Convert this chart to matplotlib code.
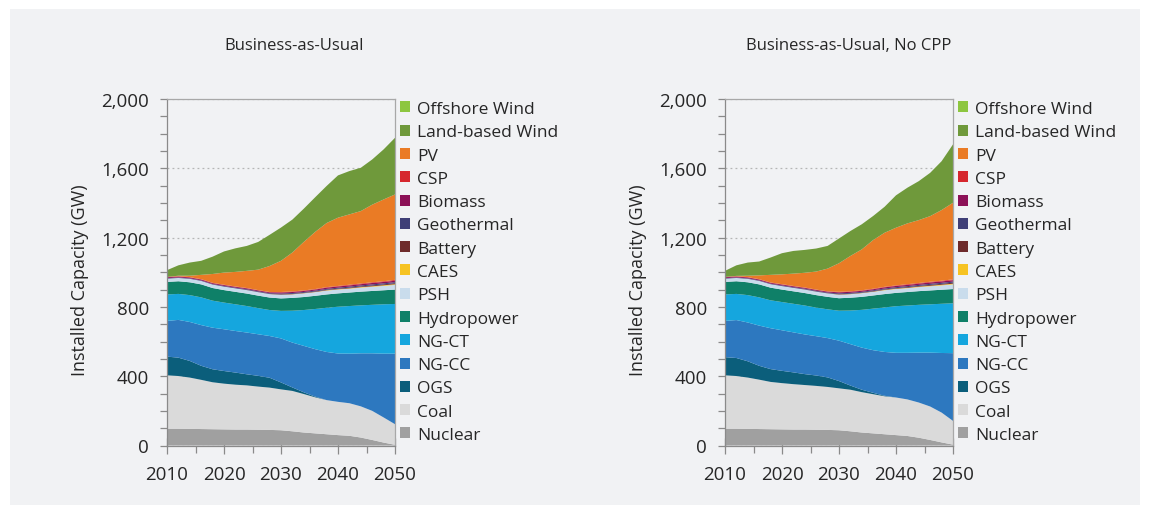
import numpy as np
import matplotlib.pyplot as plt
from matplotlib.patches import Patch, Rectangle
from matplotlib.ticker import MultipleLocator, FuncFormatter

plt.rcParams['font.family'] = ['Open Sans', 'DejaVu Sans']

years = [2010, 2012, 2014, 2016, 2018, 2020, 2022, 2024, 2026, 2028, 2030,
         2032, 2034, 2036, 2038, 2040, 2042, 2044, 2046, 2048, 2050]

labels = ['Nuclear', 'Coal', 'OGS', 'NG-CC', 'NG-CT', 'Hydropower', 'PSH', 'CAES',
          'Battery', 'Geothermal', 'Biomass', 'CSP', 'PV', 'Land-based Wind', 'Offshore Wind']
colors = ['#a0a0a0', '#dadada', '#0b5e7b', '#2d78bf', '#15a6de', '#0f8068', '#c9dcec', '#f6c323',
          '#6e2b2b', '#3f3f77', '#8c1157', '#d6272e', '#ea7b25', '#6f993b', '#8dc640']

# Business-as-Usual (GW)
nuclear_bau = [97, 97, 96, 95, 94, 93, 92, 92, 91, 90, 88, 82, 75, 70, 65, 60, 56, 46, 32, 17, 4]
coal_bau = [308, 304, 296, 284, 271, 264, 259, 255, 249, 244, 236, 233, 222, 208, 197, 192, 188, 180, 168, 145, 119]
ogs_bau = [108, 106, 96, 81, 75, 73, 70, 64, 62, 57, 40, 20, 10, 4, 0, 0, 0, 0, 0, 0, 0]
ngcc_bau = [206, 218, 225, 235, 240, 241, 240, 241, 240, 241, 254, 259, 268, 274, 278, 279, 286, 306, 332, 368, 407]
ngct_bau = [153, 150, 155, 160, 156, 154, 154, 153, 151, 150, 159, 184, 207, 232, 255, 270, 275, 277, 280, 285, 287]
hydro_bau = [72, 73, 74, 75, 73, 72, 72, 72, 72, 72, 72, 74, 75, 76, 77, 77, 78, 79, 80, 81, 83]
psh_bau = [19, 19, 20, 20, 20, 20, 20, 20, 20, 20, 20, 20, 21, 21, 22, 22, 22, 23, 24, 25, 27]
caes_bau = [0, 0, 0, 0, 0, 0, 0, 0, 0, 0, 1, 1, 1, 1, 2, 2, 2, 3, 3, 4, 4]
battery_bau = [0, 0, 0, 0, 0, 0, 0, 1, 1, 1, 2, 2, 2, 3, 3, 3, 4, 4, 5, 5, 6]
geo_bau = [3, 3, 3, 3, 3, 4, 4, 4, 4, 4, 5, 5, 5, 5, 5, 6, 6, 6, 6, 6, 6]
biomass_bau = [5, 5, 5, 5, 5, 5, 5, 5, 5, 5, 6, 6, 6, 6, 7, 7, 7, 7, 8, 8, 8]
csp_bau = [2, 2, 2, 2, 2, 2, 2, 2, 2, 2, 3, 3, 3, 3, 3, 3, 4, 4, 4, 4, 5]
pv_bau = [0, 3, 8, 25, 51, 70, 84, 99, 118, 150, 180, 225, 280, 330, 370, 394, 406, 418, 448, 472, 493]
wind_bau = [39, 60, 76, 81, 100, 122, 136, 144, 160, 180, 192, 190, 192, 200, 214, 244, 250, 250, 261, 289, 327]
offshore_bau = [0, 0, 0, 0, 0, 0, 0, 0, 0, 0, 0, 0, 0, 0, 0, 0, 0, 0, 0, 0, 0]

# Business-as-Usual, No CPP (GW)
nuclear_nocpp = [97, 97, 96, 95, 94, 93, 92, 92, 91, 90, 88, 82, 75, 70, 65, 60, 55, 45, 32, 18, 5]
coal_nocpp = [308, 304, 296, 285, 273, 267, 262, 257, 253, 248, 242, 240, 233, 226, 219, 217, 211, 203, 193, 172, 137]
ogs_nocpp = [105, 104, 94, 80, 74, 71, 68, 63, 60, 55, 42, 24, 14, 8, 3, 0, 0, 0, 0, 0, 0]
ngcc_nocpp = [209, 219, 224, 232, 236, 234, 231, 229, 227, 227, 233, 239, 243, 246, 253, 258, 269, 288, 311, 344, 391]
ngct_nocpp = [153, 151, 158, 163, 161, 163, 165, 167, 165, 166, 173, 194, 218, 240, 257, 269, 273, 276, 279, 284, 288]
hydro_nocpp = [72, 73, 74, 75, 73, 72, 72, 72, 72, 72, 72, 74, 75, 76, 77, 77, 78, 79, 80, 81, 82]
psh_nocpp = [19, 19, 20, 20, 20, 20, 20, 20, 20, 20, 20, 20, 21, 21, 22, 22, 22, 23, 24, 25, 27]
caes_nocpp = [0, 0, 0, 0, 0, 0, 0, 0, 0, 0, 1, 1, 1, 1, 2, 2, 2, 3, 3, 4, 4]
battery_nocpp = [0, 0, 0, 0, 0, 0, 0, 1, 1, 1, 2, 2, 2, 3, 3, 3, 4, 4, 5, 5, 6]
geo_nocpp = [3, 3, 3, 3, 3, 4, 4, 4, 4, 4, 5, 5, 5, 5, 5, 6, 6, 6, 6, 6, 6]
biomass_nocpp = [5, 5, 5, 5, 5, 5, 5, 5, 5, 5, 6, 6, 6, 6, 7, 7, 7, 7, 8, 8, 8]
csp_nocpp = [2, 2, 2, 2, 2, 2, 2, 2, 2, 2, 3, 3, 3, 3, 3, 3, 4, 4, 4, 4, 5]
pv_nocpp = [0, 2, 8, 22, 44, 57, 71, 85, 104, 131, 165, 204, 236, 281, 312, 333, 351, 363, 379, 408, 442]
wind_nocpp = [35, 61, 76, 80, 100, 122, 131, 132, 133, 131, 143, 144, 145, 139, 150, 187, 206, 225, 250, 282, 337]
offshore_nocpp = [0, 0, 0, 0, 0, 0, 0, 0, 0, 0, 0, 0, 0, 0, 0, 0, 0, 0, 0, 0, 0]

bau = [nuclear_bau, coal_bau, ogs_bau, ngcc_bau, ngct_bau, hydro_bau, psh_bau, caes_bau,
       battery_bau, geo_bau, biomass_bau, csp_bau, pv_bau, wind_bau, offshore_bau]
nocpp = [nuclear_nocpp, coal_nocpp, ogs_nocpp, ngcc_nocpp, ngct_nocpp, hydro_nocpp, psh_nocpp,
         caes_nocpp, battery_nocpp, geo_nocpp, biomass_nocpp, csp_nocpp, pv_nocpp, wind_nocpp,
         offshore_nocpp]

W, H = 1151, 510
text_color = '#262626'
spine_color = '#8a8a8a'


def px(x, y, w=0, h=0):
    # pixel box (top-left origin) -> figure fraction
    return [x / W, 1 - (y + h) / H, w / W, h / H]


def plotCapacityPanel(fig, left, title, title_x, layers):
    ax = fig.add_axes(px(left, 100, 228, 346.5))
    ax.set_facecolor('none')
    ax.stackplot(years, layers, colors=colors, linewidth=0, zorder=2)
    ax.set_xlim(2010, 2050)
    ax.set_ylim(0, 2000)

    ax.yaxis.set_major_locator(MultipleLocator(400))
    ax.yaxis.set_minor_locator(MultipleLocator(100))
    ax.xaxis.set_major_locator(MultipleLocator(10))
    ax.xaxis.set_minor_locator(MultipleLocator(5))
    ax.yaxis.set_major_formatter(FuncFormatter(lambda v, p: '{:,.0f}'.format(v)))

    ax.grid(axis='y', which='major', linestyle=(0, (1.5, 2.5)), color='#b5b5b5', linewidth=0.9, zorder=1)
    ax.set_axisbelow(True)
    for s in ax.spines.values():
        s.set_color(spine_color)
        s.set_linewidth(0.9)
    ax.spines['top'].set_color('#a8a8a8')
    ax.spines['right'].set_color('#a8a8a8')

    ax.tick_params(axis='y', which='both', direction='out', length=5, width=0.9,
                   color=spine_color, labelsize=13.5, labelcolor=text_color, pad=8)
    ax.tick_params(axis='x', which='major', direction='inout', length=12, width=0.9,
                   color=spine_color, labelsize=13.5, labelcolor=text_color, pad=8)
    ax.tick_params(axis='x', which='minor', direction='out', length=5, width=0.9, color=spine_color)

    fig.text(title_x / W, 1 - 46 / H, title, ha='center', va='center', fontsize=12, color=text_color)
    fig.text((left - 87) / W, 1 - 280 / H, 'Installed Capacity (GW)', rotation=90,
             ha='center', va='center', fontsize=13, color=text_color)

    handles = [Patch(facecolor=c, edgecolor='none') for c in colors][::-1]
    ax.legend(handles, labels[::-1], loc='upper left',
              bbox_to_anchor=((left + 233) / W, 1 - 102 / H), bbox_transform=fig.transFigure,
              frameon=False, fontsize=12.5, borderpad=0, borderaxespad=0,
              handlelength=0.6, handleheight=0.6, handletextpad=0.4, labelspacing=0.42,
              labelcolor=text_color)
    return ax


fig = plt.figure(figsize=(W / 100, H / 100), dpi=100, facecolor='white')
fig.patches.append(Rectangle((10 / W, 1 - 506 / H), 1130 / W, 496 / H,
                             transform=fig.transFigure, facecolor='#f1f2f4',
                             edgecolor='none', zorder=-5))

plotCapacityPanel(fig, 167, 'Business-as-Usual', 294, bau)
plotCapacityPanel(fig, 725, 'Business-as-Usual, No CPP', 849, nocpp)

fig.savefig('out.png', dpi=100, facecolor='white')
